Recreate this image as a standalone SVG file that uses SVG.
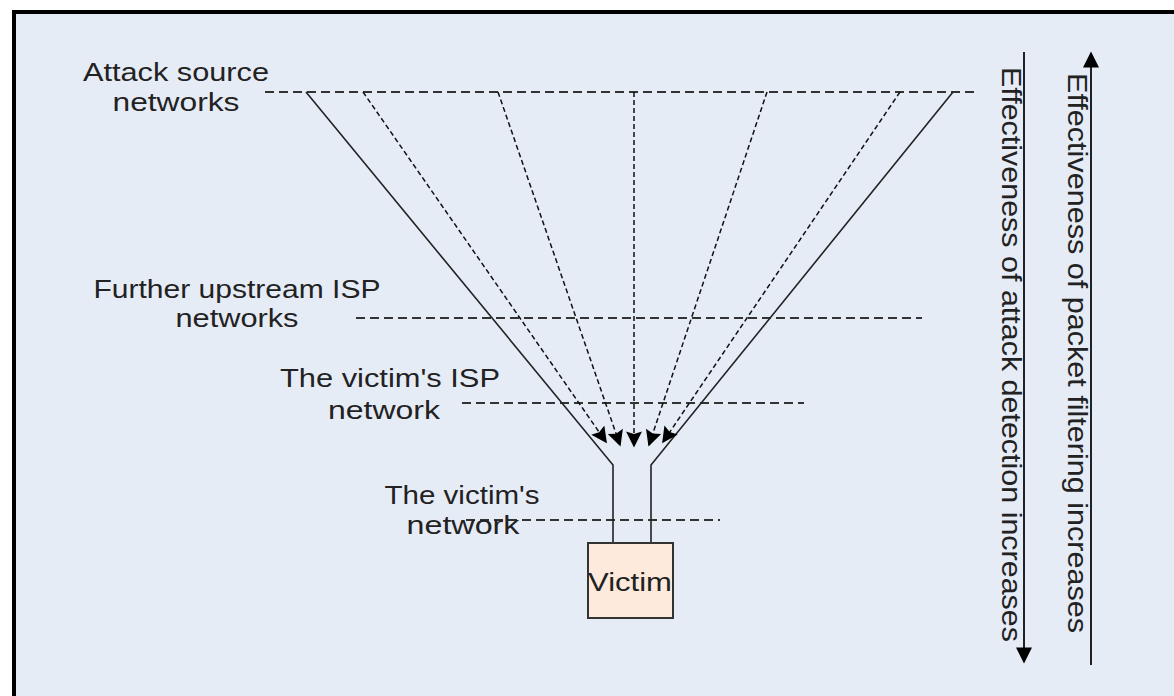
<svg xmlns="http://www.w3.org/2000/svg" width="1174" height="696" viewBox="0 0 1174 696">
<style>
.lbl{font-family:"Liberation Sans",Arial,sans-serif;font-size:26px;fill:#222;text-anchor:middle}
.vl{font-family:"Liberation Sans",Arial,sans-serif;font-size:27px;fill:#222}
.lvl{stroke:#333;stroke-width:2;stroke-dasharray:9 5;fill:none}
.dsh{stroke:#111;stroke-width:1.5;stroke-dasharray:5 3;fill:none}
.sol{stroke:#222;stroke-width:1.6;fill:none}
.axis{stroke:#222;stroke-width:2;fill:none}
</style>
<defs>
<marker id="ah" viewBox="0 0 10 10" refX="9" refY="5" markerWidth="20" markerHeight="16" markerUnits="userSpaceOnUse" orient="auto">
<path d="M0,0 L10,5 L0,10 L1.5,5 z" fill="#000"/>
</marker>
<marker id="big" viewBox="0 0 10 10" refX="9" refY="5" markerWidth="18" markerHeight="16" markerUnits="userSpaceOnUse" orient="auto">
<path d="M0,0 L10,5 L0,10 z" fill="#000"/>
</marker>
</defs>
<rect x="0" y="0" width="1174" height="696" fill="#fff"/>
<rect id="frame" x="14" y="12" width="1170" height="700" fill="#e6ecf6" stroke="#000" stroke-width="4"/>

<g id="levels">
<line class="lvl" x1="265" y1="92" x2="978" y2="92"/>
<line class="lvl" x1="356" y1="318" x2="922" y2="318"/>
<line class="lvl" x1="462" y1="403" x2="804" y2="403"/>
<line class="lvl" x1="466" y1="520" x2="720" y2="520"/>
</g>

<g id="connectors">
<polyline class="sol" points="306,92 613,465 613,543"/>
<polyline class="sol" points="953,92 651,465 651,543"/>
<line class="dsh" x1="363" y1="92" x2="606" y2="442" marker-end="url(#ah)"/>
<line class="dsh" x1="498" y1="92" x2="620" y2="445" marker-end="url(#ah)"/>
<line class="dsh" x1="634" y1="92" x2="634" y2="446" marker-end="url(#ah)"/>
<line class="dsh" x1="767" y1="92" x2="649" y2="445" marker-end="url(#ah)"/>
<line class="dsh" x1="900" y1="92" x2="663" y2="442" marker-end="url(#ah)"/>
<line class="axis" x1="1024" y1="52" x2="1024" y2="662" marker-end="url(#big)"/>
<line class="axis" x1="1091" y1="665" x2="1091" y2="53" marker-end="url(#big)"/>
</g>

<g id="attack-source">
<text class="lbl" x="176" y="81" textLength="186" lengthAdjust="spacingAndGlyphs">Attack source</text>
<text class="lbl" x="176" y="111" textLength="127" lengthAdjust="spacingAndGlyphs">networks</text>
</g>
<g id="upstream-isp">
<text class="lbl" x="237" y="298" textLength="287" lengthAdjust="spacingAndGlyphs">Further upstream ISP</text>
<text class="lbl" x="237" y="327" textLength="123" lengthAdjust="spacingAndGlyphs">networks</text>
</g>
<g id="victim-isp">
<text class="lbl" x="390" y="387" textLength="220" lengthAdjust="spacingAndGlyphs">The victim's ISP</text>
<text class="lbl" x="384" y="419" textLength="112" lengthAdjust="spacingAndGlyphs">network</text>
</g>
<g id="victim-network">
<text class="lbl" x="462" y="504" textLength="155" lengthAdjust="spacingAndGlyphs">The victim's</text>
<text class="lbl" x="463" y="534" textLength="113" lengthAdjust="spacingAndGlyphs">network</text>
</g>
<g id="victim">
<rect x="588" y="543" width="85" height="75" fill="#fdeadc" stroke="#333" stroke-width="2"/>
<text class="lbl" x="630" y="591" textLength="84" lengthAdjust="spacingAndGlyphs">Victim</text>
</g>
<g id="detection-axis">
<text class="vl" transform="translate(1002,67) rotate(90)" textLength="575" lengthAdjust="spacingAndGlyphs">Effectiveness of attack detection increases</text>
</g>
<g id="filtering-axis">
<text class="vl" transform="translate(1068,73) rotate(90)" textLength="560" lengthAdjust="spacingAndGlyphs">Effectiveness of packet filtering increases</text>
</g>
</svg>
